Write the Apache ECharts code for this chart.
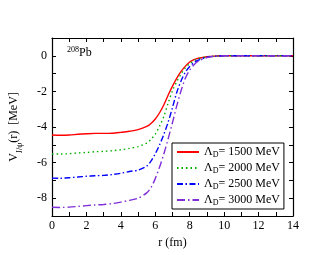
<!DOCTYPE html>
<html><head><meta charset="utf-8">
<script src="https://cdn.jsdelivr.net/npm/echarts@6/dist/echarts.min.js"></script>
<style>html,body{margin:0;padding:0;background:#fff}#c{width:330px;height:255px}</style>
</head><body><div id="c"></div>
<script>
const rVals = [0,0.5,1,1.5,2,2.5,3,3.5,4,4.5,5,5.5,5.75,6,6.25,6.5,6.75,7,7.25,7.5,7.75,8,8.25,8.5,9,9.5,10,11,12,13,14];
const v1500 = [-4.45,-4.46,-4.45,-4.41,-4.38,-4.36,-4.36,-4.35,-4.3,-4.24,-4.15,-3.97,-3.8,-3.55,-3.2,-2.75,-2.2,-1.7,-1.25,-0.88,-0.58,-0.35,-0.22,-0.14,-0.05,-0.015,0,0,0,0,0];
const v2000 = [-5.52,-5.52,-5.5,-5.46,-5.43,-5.39,-5.37,-5.33,-5.28,-5.2,-5.1,-4.9,-4.7,-4.4,-3.95,-3.4,-2.65,-1.95,-1.45,-1.02,-0.68,-0.44,-0.28,-0.17,-0.06,-0.02,0,0,0,0,0];
const v2500 = [-6.87,-6.88,-6.85,-6.81,-6.77,-6.74,-6.72,-6.67,-6.6,-6.5,-6.42,-6.2,-5.92,-5.5,-5.0,-4.4,-3.72,-2.9,-2.05,-1.4,-0.92,-0.6,-0.38,-0.24,-0.08,-0.02,0,0,0,0,0];
const v3000 = [-8.51,-8.52,-8.5,-8.46,-8.42,-8.38,-8.35,-8.3,-8.22,-8.12,-8.0,-7.7,-7.4,-6.9,-6.25,-5.5,-4.65,-3.75,-2.8,-1.95,-1.25,-0.8,-0.5,-0.3,-0.1,-0.03,0,0,0,0,0];
const lambdas = ['1500','2000','2500','3000'];
const xTickLabels = ['0','2','4','6','8','10','12','14'];
const yTickLabels = ['0','-2','-4','-6','-8'];

const FONT = 'Liberation Serif';
const chart = echarts.init(document.getElementById('c'));
const seriesVals = [v1500, v2000, v2500, v3000];
const colors = ['#ff0000', '#00b000', '#0000ff', '#7f2fd8'];
const dashes = ['solid', [1.5, 3], [6, 2.5, 1.5, 2.5], [8, 3, 1.5, 3]];

const axisCommon = {
  axisLine: {onZero: false, lineStyle: {color: '#000', width: 1.2}},
  axisTick: {inside: true, length: 4, lineStyle: {color: '#000'}},
  splitLine: {show: false}
};

chart.setOption({
  animation: false,
  grid: {left: 51, right: 37, top: 38, bottom: 39},
  xAxis: [
    Object.assign({type: 'value', min: 0, max: 14, interval: 1, position: 'bottom',
      name: 'r (fm)', nameLocation: 'middle', nameGap: 17,
      nameTextStyle: {fontFamily: FONT, fontSize: 12, color: '#000'},
      axisLabel: {fontFamily: FONT, fontSize: 12, color: '#000', margin: 4,
        formatter: v => xTickLabels.includes(String(v)) ? String(v) : ''}}, axisCommon),
    Object.assign({type: 'value', min: 0, max: 14, interval: 1, position: 'top',
      axisLabel: {show: false}}, axisCommon)
  ],
  yAxis: [
    Object.assign({type: 'value', min: -9, max: 1, interval: 1, position: 'left',
      name: '{a|V}{s|J/ψ}{a|(r)  [MeV]}', nameLocation: 'middle', nameGap: 28, nameRotate: 90,
      nameTextStyle: {rich: {
        a: {fontFamily: FONT, fontSize: 12, color: '#000'},
        s: {fontFamily: FONT, fontSize: 8, color: '#000', verticalAlign: 'bottom', lineHeight: 20}
      }},
      axisLabel: {fontFamily: FONT, fontSize: 12, color: '#000', margin: 5,
        formatter: v => yTickLabels.includes(String(v)) ? String(v) : ''}}, axisCommon),
    Object.assign({type: 'value', min: -9, max: 1, interval: 1, position: 'right',
      axisLabel: {show: false}}, axisCommon)
  ],
  legend: {
    orient: 'vertical', left: 172, top: 143,
    padding: [3, 4, 2, 4], itemGap: 3,
    borderColor: '#000', borderWidth: 1,
    itemWidth: 22, itemHeight: 12,
    itemStyle: {opacity: 0},
    data: lambdas.map(l => ({name: l})),
    formatter: name => '{a|Λ}{s|D}{a|= ' + name + ' MeV}',
    textStyle: {rich: {
      a: {fontFamily: FONT, fontSize: 12, color: '#000'},
      s: {fontFamily: FONT, fontSize: 8, color: '#000', verticalAlign: 'bottom', padding: [6, 0, 0, 0]}
    }}
  },
  graphic: [{
    type: 'text', left: 67, top: 46,
    style: {text: '{s|208}{a|Pb}', rich: {
      a: {fontFamily: FONT, fontSize: 12, fill: '#000'},
      s: {fontFamily: FONT, fontSize: 8, fill: '#000', verticalAlign: 'top', padding: [0, 0, 5, 0]}
    }}
  }],
  series: seriesVals.map((vals, i) => ({
    name: lambdas[i], type: 'line', smooth: 0.3, showSymbol: false, symbol: 'none',
    data: rVals.map((r, j) => [r, vals[j]]),
    lineStyle: {color: colors[i], width: 1.4, type: dashes[i]},
    itemStyle: {color: colors[i]}
  }))
});
</script></body></html>
